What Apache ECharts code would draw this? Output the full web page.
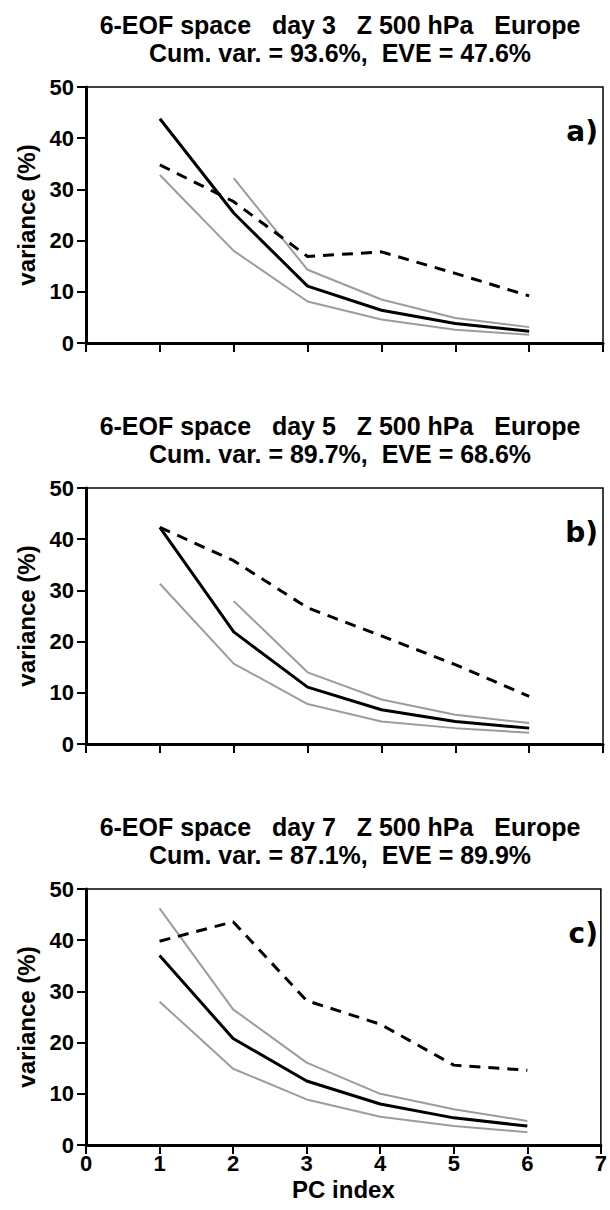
<!DOCTYPE html>
<html>
<head>
<meta charset="utf-8">
<script src="https://cdn.jsdelivr.net/npm/echarts@6/dist/echarts.min.js"></script>
<style>html,body{margin:0;padding:0;background:#fff}#c{width:610px;height:1210px}</style>
</head>
<body>
<div id="c"></div>
<script>
// ---- data ----
const pcIndex = [1, 2, 3, 4, 5, 6];
const xTicks = [0, 1, 2, 3, 4, 5, 6, 7];
const yTicks = [0, 10, 20, 30, 40, 50];
const titlesLine1 = ['6-EOF space   day 3   Z 500 hPa   Europe', '6-EOF space   day 5   Z 500 hPa   Europe', '6-EOF space   day 7   Z 500 hPa   Europe'];
const titlesLine2 = ['Cum. var. = 93.6%,  EVE = 47.6%', 'Cum. var. = 89.7%,  EVE = 68.6%', 'Cum. var. = 87.1%,  EVE = 89.9%'];
const panelLabels = ['a)', 'b)', 'c)'];

// panel a (day 3)
const a_solid = [43.8, 25.4, 11.1, 6.4, 3.8, 2.3];
const a_dash  = [34.8, 27.6, 16.9, 17.8, 13.6, 9.2];
const a_grayLow = [32.8, 18.0, 8.1, 4.6, 2.6, 1.6];
const a_grayUp  = [null, 32.2, 14.3, 8.5, 4.9, 3.1];
// panel b (day 5)
const b_solid = [42.3, 21.9, 11.1, 6.7, 4.4, 3.1];
const b_dash  = [42.3, 35.8, 26.6, 21.1, 15.5, 9.3];
const b_grayLow = [31.3, 15.7, 7.8, 4.4, 3.1, 2.2];
const b_grayUp  = [null, 27.9, 14.0, 8.7, 5.7, 4.1];
// panel c (day 7)
const c_solid = [37.0, 20.8, 12.5, 8.0, 5.3, 3.7];
const c_dash  = [39.8, 43.6, 28.2, 23.6, 15.6, 14.6];
const c_grayLow = [28.0, 14.9, 8.9, 5.5, 3.7, 2.5];
const c_grayUp  = [46.2, 26.5, 16.1, 10.0, 7.0, 4.7];

const panels = [
  {solid: a_solid, dash: a_dash, low: a_grayLow, up: a_grayUp},
  {solid: b_solid, dash: b_dash, low: b_grayLow, up: b_grayUp},
  {solid: c_solid, dash: c_dash, low: c_grayLow, up: c_grayUp}
];

// ---- layout ----
const FONT = '"Liberation Sans", Arial, sans-serif';
const gridTops = [87, 488, 889];
const gridH = 256;
const gridLeft = 86, gridRight = 7;

const chart = echarts.init(document.getElementById('c'), null, {renderer: 'svg'});

const grids = [], xAxes = [], yAxes = [], series = [], graphics = [];
const pairs = (vals) => pcIndex.map((x, i) => [x, vals[i] == null ? '-' : vals[i]]);

panels.forEach((p, i) => {
  grids.push({left: gridLeft, right: gridRight, top: gridTops[i], height: gridH,
    show: true, borderColor: '#000', borderWidth: 1.5, backgroundColor: 'transparent', containLabel: false});
  const last = i === 2;
  xAxes.push({
    type: 'value', gridIndex: i, min: xTicks[0], max: xTicks[xTicks.length - 1], interval: 1,
    axisLine: {show: true, onZero: false, lineStyle: {color: '#000', width: 3}},
    axisTick: {show: true, length: 9, lineStyle: {color: '#000', width: 2}},
    axisLabel: {show: last, color: '#000', fontFamily: FONT, fontWeight: 'bold', fontSize: 22, margin: 7},
    splitLine: {show: false},
    name: last ? 'PC index' : '', nameLocation: 'middle', nameGap: 32,
    nameTextStyle: {color: '#000', fontFamily: FONT, fontWeight: 'bold', fontSize: 24}
  });
  yAxes.push({
    type: 'value', gridIndex: i, min: yTicks[0], max: yTicks[yTicks.length - 1], interval: 10,
    axisLine: {show: true, onZero: false, lineStyle: {color: '#000', width: 3}},
    axisTick: {show: true, length: 9, lineStyle: {color: '#000', width: 2}},
    axisLabel: {color: '#000', fontFamily: FONT, fontWeight: 'bold', fontSize: 22, margin: 12},
    splitLine: {show: false},
    name: 'variance (%)', nameLocation: 'middle', nameRotate: 90, nameGap: 48,
    nameTextStyle: {color: '#000', fontFamily: FONT, fontWeight: 'bold', fontSize: 24}
  });
  const base = {type: 'line', xAxisIndex: i, yAxisIndex: i, symbol: 'none', silent: true, animation: false};
  series.push(Object.assign({}, base, {data: pairs(p.low), lineStyle: {color: '#9c9c9c', width: 2}}));
  series.push(Object.assign({}, base, {data: pairs(p.up), lineStyle: {color: '#9c9c9c', width: 2}}));
  series.push(Object.assign({}, base, {data: pairs(p.dash), lineStyle: {color: '#000', width: 3, type: [11, 8]}}));
  series.push(Object.assign({}, base, {data: pairs(p.solid), lineStyle: {color: '#000', width: 3}}));

  graphics.push({type: 'text', x: 340, y: gridTops[i] - 48, style: {
    text: titlesLine1[i] + '\n' + titlesLine2[i], fill: '#000', font: 'bold 25px ' + FONT,
    textAlign: 'center', textVerticalAlign: 'middle', lineHeight: 28}});
  graphics.push({type: 'text', x: 598, y: gridTops[i] + 44, style: {
    text: panelLabels[i], fill: '#000', font: 'bold 28px "DejaVu Sans", sans-serif',
    textAlign: 'right', textVerticalAlign: 'middle'}});
});

chart.setOption({
  animation: false,
  grid: grids, xAxis: xAxes, yAxis: yAxes, series: series, graphic: graphics
});
</script>
</body>
</html>
